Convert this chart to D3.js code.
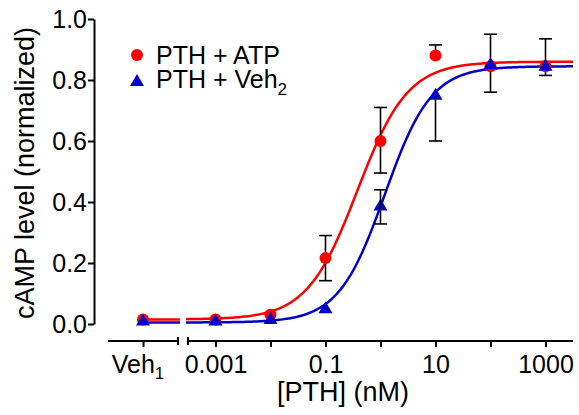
<!DOCTYPE html>
<html>
<head>
    <title>cAMP vs PTH</title>
    <meta http-equiv="content-type" content="text/html; charset=UTF-8">
    <script type="text/javascript" src="https://cdn.jsdelivr.net/npm/d3@7/dist/d3.min.js"></script>
</head>
<body style="margin:0;background:#fff">

<style>
    text {
        font-family: "Liberation Sans", Arial, sans-serif;
        fill: #000;
    }
    .axis path, .axis line {
        stroke: #000;
        stroke-width: 2px;
    }
</style>

<script type="text/javascript">
    // doses (nM); first entry is the vehicle point on the broken segment
    var doses = ["Veh", 0.001, 0.01, 0.1, 1, 10, 100, 1000];

    var atpMean = [0.015, 0.015, 0.03, 0.216, 0.60, 0.88, 0.845, 0.845];
    var atpErrUp = [0, 0, 0, 0.074, 0.11, 0.035, 0.105, 0.09];
    var atpErrDown = [0, 0, 0, 0.074, 0.105, 0, 0, 0];

    var vehMean = [0.005, 0.005, 0.01, 0.045, 0.382, 0.745, 0.845, 0.84];
    var vehErrUp = [0, 0, 0, 0, 0.058, 0, 0, 0];
    var vehErrDown = [0, 0, 0, 0, 0.054, 0.145, 0.085, 0.025];

    // fitted dose-response parameters: bottom, top, EC50 (nM), hill slope
    var atpFit = [0.015, 0.86, 0.38, 0.95];
    var vehFit = [0.005, 0.845, 1.2, 1.03];

    var yTicks = [0, 0.2, 0.4, 0.6, 0.8, 1.0];
    var xTicks = [0.001, 0.01, 0.1, 1, 10, 100, 1000];
    var xTickLabels = ["0.001", "", "0.1", "", "10", "", "1000"];

    var width = 579, height = 415;

    var svg = d3.select("body").append("svg")
        .attr("width", width)
        .attr("height", height);

    var y = d3.scaleLinear().domain([0, 1]).range([324, 19]);
    var x = d3.scaleLog().domain([Math.pow(10, -3.5), Math.pow(10, 3.5)]).range([188, 573]);
    var xVeh = d3.scalePoint().domain(["Veh"]).range([108, 178]).padding(0.5);
    var axisY = 341;

    function xPos(d) {
        return d === "Veh" ? xVeh(d) : x(d);
    }

    function hill(p, c) {
        return p[0] + (p[1] - p[0]) / (1 + Math.pow(p[2] / c, p[3]));
    }

    // y axis
    svg.append("g")
        .attr("class", "axis")
        .attr("transform", "translate(94,0)")
        .call(d3.axisLeft(y).tickValues(yTicks).tickFormat(d3.format(".1f"))
            .tickSize(6).tickSizeOuter(0).tickPadding(1))
        .selectAll("text")
        .style("font-size", "25px");

    // main x axis
    var gx = svg.append("g")
        .attr("class", "axis")
        .attr("transform", "translate(0," + axisY + ")")
        .call(d3.axisBottom(x).tickValues(xTicks)
            .tickFormat(function (d, i) { return xTickLabels[i]; })
            .tickSize(6).tickSizeOuter(0).tickPadding(8));
    gx.selectAll("text").style("font-size", "25px");
    gx.select(".domain").attr("d", "M188,0H573");
    gx.append("line").attr("x1", 188).attr("x2", 188).attr("y1", -4).attr("y2", 4)
        .attr("stroke", "#000").attr("stroke-width", 2);

    // vehicle segment of the axis
    var gv = svg.append("g")
        .attr("class", "axis")
        .attr("transform", "translate(0," + axisY + ")")
        .call(d3.axisBottom(xVeh).tickSize(6).tickSizeOuter(0).tickPadding(8)
            .tickFormat(function () { return ""; }));
    gv.select(".domain").attr("d", "M108,0H178");
    gv.append("line").attr("x1", 178).attr("x2", 178).attr("y1", -4).attr("y2", 4)
        .attr("stroke", "#000").attr("stroke-width", 2);
    var vehLabel = gv.append("text")
        .attr("x", xVeh("Veh") - 5)
        .attr("y", 32)
        .attr("text-anchor", "middle")
        .style("font-size", "25px");
    vehLabel.append("tspan").text("Veh");
    vehLabel.append("tspan").attr("dy", 6).style("font-size", "17px").text("1");

    // axis titles
    svg.append("text")
        .attr("transform", "translate(34,173) rotate(-90)")
        .attr("text-anchor", "middle")
        .style("font-size", "27px")
        .text("cAMP level (normalized)");

    svg.append("text")
        .attr("x", 343)
        .attr("y", 401)
        .attr("text-anchor", "middle")
        .style("font-size", "27px")
        .text("[PTH] (nM)");

    // fitted curves
    var line = d3.line()
        .x(function (d) { return d[0]; })
        .y(function (d) { return y(d[1]); })
        .curve(d3.curveLinear);

    function drawFit(p, color) {
        var lo = x.invert(186), hi = x.invert(573);
        var pts = d3.range(0, 201).map(function (i) {
            var c = lo * Math.pow(hi / lo, i / 200);
            return [x(c), hill(p, c)];
        });
        svg.append("path")
            .attr("d", line(pts))
            .attr("fill", "none")
            .attr("stroke", color)
            .attr("stroke-width", 2.5);
        svg.append("path")
            .attr("d", line([[xVeh("Veh"), p[0]], [180, p[0]]]))
            .attr("fill", "none")
            .attr("stroke", color)
            .attr("stroke-width", 2.5);
    }

    drawFit(atpFit, "#ff0000");
    drawFit(vehFit, "#0000c8");

    var triangle = d3.symbol().type(d3.symbolTriangle).size(85);

    // blue triangles
    svg.selectAll(".tri")
        .data(doses)
        .enter().append("path")
        .attr("class", "tri")
        .attr("d", triangle)
        .attr("fill", "#0000c8")
        .attr("transform", function (d, i) {
            return "translate(" + xPos(d) + "," + (y(vehMean[i]) - 1) + ")";
        });

    // error bars
    function drawErr(mean, up, down) {
        doses.forEach(function (d, i) {
            var cx = xPos(d), cap = 6.5;
            if (up[i] > 0) {
                svg.append("line").attr("x1", cx).attr("x2", cx)
                    .attr("y1", y(mean[i])).attr("y2", y(mean[i] + up[i]))
                    .attr("stroke", "#000").attr("stroke-width", 1.6);
                svg.append("line").attr("x1", cx - cap).attr("x2", cx + cap)
                    .attr("y1", y(mean[i] + up[i])).attr("y2", y(mean[i] + up[i]))
                    .attr("stroke", "#000").attr("stroke-width", 1.6);
            }
            if (down[i] > 0) {
                svg.append("line").attr("x1", cx).attr("x2", cx)
                    .attr("y1", y(mean[i])).attr("y2", y(mean[i] - down[i]))
                    .attr("stroke", "#000").attr("stroke-width", 1.6);
                svg.append("line").attr("x1", cx - cap).attr("x2", cx + cap)
                    .attr("y1", y(mean[i] - down[i])).attr("y2", y(mean[i] - down[i]))
                    .attr("stroke", "#000").attr("stroke-width", 1.6);
            }
        });
    }

    drawErr(vehMean, vehErrUp, vehErrDown);
    drawErr(atpMean, atpErrUp, atpErrDown);

    // red circles
    svg.selectAll(".dot")
        .data(doses)
        .enter().append("circle")
        .attr("class", "dot")
        .attr("cx", xPos)
        .attr("cy", function (d, i) { return y(atpMean[i]); })
        .attr("r", 6)
        .attr("fill", "#ff0000");

    // triangles that sit on top of the circles
    svg.selectAll(".tri").filter(function (d) { return d === 100 || d === 1000 || d === "Veh" || d === 0.001 || d === 0.01; }).raise();

    // legend
    var legend = svg.append("g");
    legend.append("circle").attr("cx", 137).attr("cy", 55).attr("r", 6).attr("fill", "#ff0000");
    legend.append("path").attr("d", triangle).attr("fill", "#0000c8")
        .attr("transform", "translate(137,82)");
    legend.append("text").attr("x", 156).attr("y", 64).style("font-size", "25px").text("PTH + ATP");
    var l2 = legend.append("text").attr("x", 156).attr("y", 88).style("font-size", "25px");
    l2.append("tspan").text("PTH + Veh");
    l2.append("tspan").attr("dy", 7).style("font-size", "17px").text("2");
</script>
</body>
</html>
